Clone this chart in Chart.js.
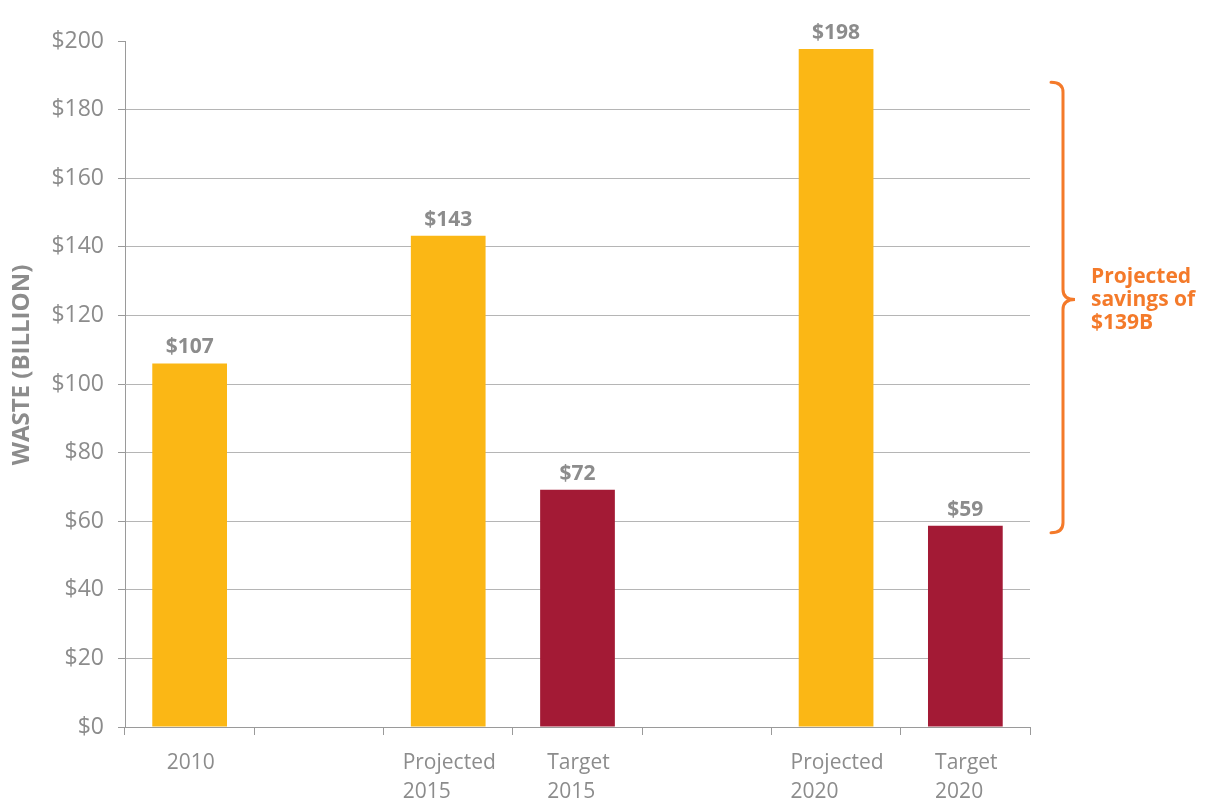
<!DOCTYPE html>
<html>
<head>
<meta charset="utf-8">
<script src="https://cdn.jsdelivr.net/npm/chart.js@4"></script>
<style>
  html, body { margin: 0; padding: 0; background: #fff; }
  #wrap { width: 1213px; height: 802px; }
</style>
</head>
<body>
<div id="wrap"><canvas id="wasteChart"></canvas></div>
<script>
// данные графика
const categories = [['2010'], [''], ['Projected', '2015'], ['Target', '2015'], [''], ['Projected', '2020'], ['Target', '2020']];
const wasteValues = [106, null, 143.2, 69.2, null, 197.7, 58.7];
const valueLabels = ['$107', '', '$143', '$72', '', '$198', '$59'];
const barColors = ['#FBB715', '#FBB715', '#FBB715', '#A31A35', '#FBB715', '#FBB715', '#A31A35'];
const yTicks = [0, 20, 40, 60, 80, 100, 120, 140, 160, 180, 200];
const savingsText = ['Projected', 'savings of', '$139B'];
const bracketRange = [188, 56.6]; // верх и низ скобки в единицах оси

const GRAY = '#8C8C8C';
const ORANGE = '#F47A2A';
const FONT = '"Open Sans", "DejaVu Sans", sans-serif';

// подписи, ось Y и скобка экономии
const annotations = {
  id: 'annotations',
  afterDraw(chart) {
    const ctx = chart.ctx;
    const x = chart.scales.x;
    const y = chart.scales.y;
    const meta = chart.getDatasetMeta(0);

    ctx.save();

    // значения над столбцами
    ctx.font = 'bold 21px ' + FONT;
    ctx.fillStyle = GRAY;
    ctx.textAlign = 'center';
    ctx.textBaseline = 'alphabetic';
    meta.data.forEach((bar, i) => {
      if (wasteValues[i] == null) return;
      ctx.fillText(valueLabels[i], bar.x, bar.y - 10);
    });

    // подписи категорий: блок по центру, строки по левому краю
    ctx.font = '21px ' + FONT;
    ctx.textAlign = 'left';
    categories.forEach((lines, i) => {
      const cx = x.getPixelForValue(i);
      const w = Math.max(...lines.map(l => ctx.measureText(l).width));
      lines.forEach((line, j) => {
        ctx.fillText(line, cx - w / 2 + 1, y.bottom + 42 + j * 29);
      });
    });

    // заголовок оси Y
    ctx.save();
    ctx.translate(22, 365);
    ctx.rotate(-Math.PI / 2);
    ctx.font = 'bold 24px ' + FONT;
    ctx.textAlign = 'center';
    ctx.textBaseline = 'middle';
    ctx.fillText('WASTE (BILLION)', 0, 0);
    ctx.restore();

    // фигурная скобка
    const top = y.getPixelForValue(bracketRange[0]);
    const bottom = y.getPixelForValue(bracketRange[1]);
    const mid = (top + bottom) / 2 - 8;
    const x0 = x.right + 21;
    const x1 = x0 + 12;
    const x2 = x1 + 12;
    const r = 10;
    ctx.strokeStyle = ORANGE;
    ctx.lineWidth = 3;
    ctx.lineCap = 'round';
    ctx.beginPath();
    ctx.moveTo(x0, top);
    ctx.quadraticCurveTo(x1, top, x1, top + r);
    ctx.lineTo(x1, mid - r);
    ctx.quadraticCurveTo(x1, mid, x2, mid);
    ctx.quadraticCurveTo(x1, mid, x1, mid + r);
    ctx.lineTo(x1, bottom - r);
    ctx.quadraticCurveTo(x1, bottom, x0, bottom);
    ctx.stroke();

    // текст экономии
    ctx.fillStyle = ORANGE;
    ctx.font = 'bold 21px ' + FONT;
    ctx.textAlign = 'left';
    savingsText.forEach((line, j) => {
      ctx.fillText(line, x2 + 16, mid - 17 + j * 23);
    });

    ctx.restore();
  }
};

new Chart(document.getElementById('wasteChart'), {
  type: 'bar',
  data: {
    labels: categories,
    datasets: [{
      label: 'Waste',
      data: wasteValues,
      backgroundColor: barColors,
      categoryPercentage: 1,
      barPercentage: 0.578
    }]
  },
  options: {
    responsive: true,
    maintainAspectRatio: false,
    animation: false,
    layout: { padding: { top: 41, right: 183, bottom: 0, left: 0 } },
    plugins: {
      legend: { display: false },
      tooltip: { enabled: false }
    },
    scales: {
      x: {
        grid: { display: true, drawOnChartArea: false, offset: true, tickLength: 8, color: '#9A9A9A' },
        border: { color: '#9A9A9A' },
        ticks: { display: false },
        afterFit: s => { s.height = 75; }
      },
      y: {
        min: 0,
        max: 200,
        afterBuildTicks: s => { s.ticks = yTicks.map(v => ({ value: v })); },
        ticks: {
          color: GRAY,
          font: { family: FONT, size: 23 },
          padding: 14,
          callback: v => '$' + v
        },
        grid: {
          color: c => (c.tick && c.tick.value === 200) ? 'rgba(0,0,0,0)' : '#B5B5B5',
          tickColor: '#9A9A9A',
          tickLength: 7
        },
        border: { color: '#9A9A9A' },
        afterFit: s => { s.width = 125; }
      }
    }
  },
  plugins: [annotations]
});
</script>
</body>
</html>
